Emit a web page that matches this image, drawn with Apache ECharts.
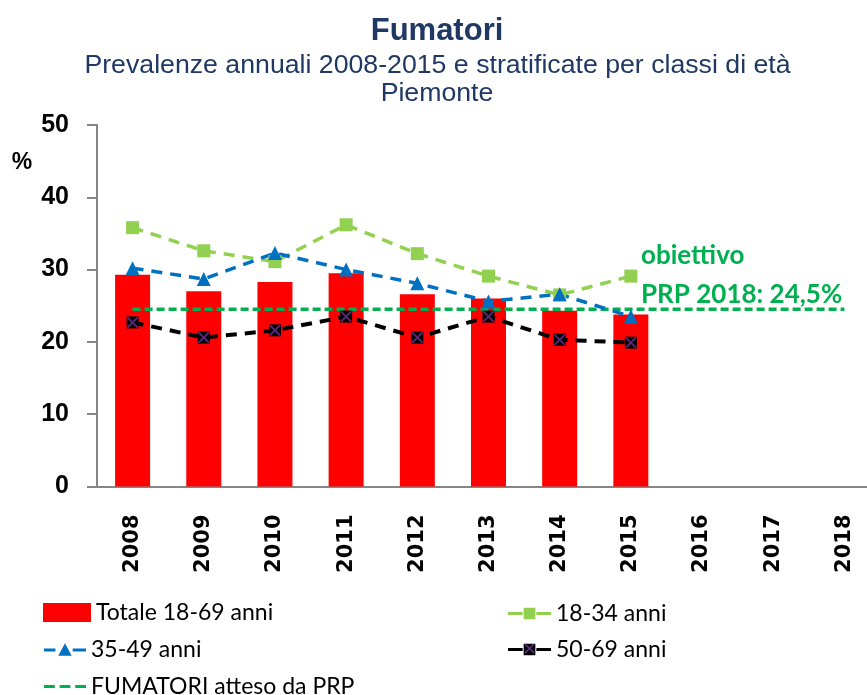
<!DOCTYPE html>
<html>
<head>
<meta charset="utf-8">
<script src="https://cdn.jsdelivr.net/npm/echarts@6/dist/echarts.min.js"></script>
<style>
html,body{margin:0;padding:0;background:#fff;}
#c{width:867px;height:695px;}
</style>
</head>
<body>
<div id="c"></div>
<script>
var years = ['2008','2009','2010','2011','2012','2013','2014','2015','2016','2017','2018'];
var totale = [29.3, 27.0, 28.3, 29.5, 26.6, 26.0, 24.3, 23.8, null, null, null];
var a1834 = [35.8, 32.6, 31.1, 36.2, 32.2, 29.1, 26.5, 29.1, null, null, null];
var a3549 = [30.2, 28.7, 32.3, 30.0, 28.1, 25.6, 26.6, 23.5, null, null, null];
var a5069 = [22.7, 20.6, 21.6, 23.5, 20.6, 23.5, 20.3, 19.9, null, null, null];
var prp = [24.5, 24.5, 24.5, 24.5, 24.5, 24.5, 24.5, 24.5, 24.5, 24.5, 24.5];
var yTicks = [0, 10, 20, 30, 40, 50];

var titleText = 'Fumatori';
var subtitle1 = 'Prevalenze annuali 2008-2015 e stratificate per classi di età';
var subtitle2 = 'Piemonte';
var noteLine1 = 'obiettivo';
var noteLine2 = 'PRP 2018: 24,5%';

var navy = '#1F3864';
var legendFont = {fontFamily: 'Lato', fontSize: 23, color: '#000'};
var xPath = 'path://M0,0 L1.2,0 L5,3.8 L8.8,0 L10,0 L10,1.2 L6.2,5 L10,8.8 L10,10 L8.8,10 L5,6.2 L1.2,10 L0,10 L0,8.8 L3.8,5 L0,1.2 Z';

// legend icons (44 x 14 box)
var iconTri = 'path://M0,5.5 L12,5.5 L12,8.5 L0,8.5 Z M15,13 L22,0 L29,13 Z M30,5.5 L44,5.5 L44,8.5 L30,8.5 Z';
var iconSq = 'path://M0,5.5 L15,5.5 L15,8.5 L0,8.5 Z M16,1 L28,1 L28,13 L16,13 Z M29,5.5 L44,5.5 L44,8.5 L29,8.5 Z';
var iconDash = 'path://M0,0 L11,0 L11,3 L0,3 Z M16,0 L27,0 L27,3 L16,3 Z M32,0 L43,0 L43,3 L32,3 Z';

var chart = echarts.init(document.getElementById('c'), null, {renderer: 'canvas'});
chart.setOption({
  animation: false,
  backgroundColor: '#fff',
  grid: {left: 97, top: 125, height: 361.5, width: 783, containLabel: false, outerBoundsMode: 'none'},
  graphic: [
    {type: 'text', x: 437, y: 31, style: {text: titleText, font: 'bold 31px "Liberation Sans"', fill: navy, align: 'center', verticalAlign: 'middle'}},
    {type: 'text', x: 437.5, y: 66, style: {text: subtitle1, font: '26.7px "Liberation Sans"', fill: navy, align: 'center', verticalAlign: 'middle'}},
    {type: 'text', x: 437, y: 94, style: {text: subtitle2, font: '26.7px "Liberation Sans"', fill: navy, align: 'center', verticalAlign: 'middle'}},
    {type: 'text', x: 22, y: 163, style: {text: '%', font: 'bold 23px "Liberation Sans"', fill: '#000', align: 'center', verticalAlign: 'middle'}},
    {type: 'text', x: 641, y: 256, style: {text: noteLine1, font: 'bold 26px Lato', fill: '#00B050', align: 'left', verticalAlign: 'middle'}},
    {type: 'text', x: 641, y: 295, style: {text: noteLine2, font: 'bold 26px Lato', fill: '#00B050', align: 'left', verticalAlign: 'middle'}},
    {type: 'line', shape: {x1: 525, y1: 644, x2: 534, y2: 653}, style: {stroke: '#7030A0', lineWidth: 1.3}, z: 100},
    {type: 'line', shape: {x1: 534, y1: 644, x2: 525, y2: 653}, style: {stroke: '#7030A0', lineWidth: 1.3}, z: 100}
  ],
  legend: [
    {data: ['Totale 18-69 anni'], left: 43, top: 601, icon: 'rect', itemWidth: 48, itemHeight: 19, textStyle: legendFont, padding: 0},
    {data: [{name: '18-34 anni', icon: iconSq}], left: 508, top: 602, itemWidth: 43, itemHeight: 14, textStyle: legendFont, padding: 0},
    {data: [{name: '35-49 anni', icon: iconTri}], left: 44, top: 638, itemWidth: 42, itemHeight: 14, textStyle: legendFont, padding: 0},
    {data: [{name: '50-69 anni', icon: iconSq}], left: 508, top: 638, itemWidth: 43, itemHeight: 14, textStyle: legendFont, padding: 0},
    {data: [{name: 'FUMATORI atteso da PRP', icon: iconDash}], left: 44, top: 675, itemWidth: 42, itemHeight: 4, textStyle: legendFont, padding: 0}
  ],
  xAxis: {
    type: 'category',
    data: years,
    boundaryGap: true,
    axisLine: {lineStyle: {color: '#868686', width: 2}},
    axisTick: {show: false},
    axisLabel: {rotate: 90, margin: 28, fontFamily: 'DejaVu Sans', fontWeight: 'bold', fontSize: 21, color: '#000'},
    splitLine: {show: false}
  },
  yAxis: {
    type: 'value',
    min: yTicks[0],
    max: yTicks[yTicks.length - 1],
    interval: 10,
    axisLine: {show: true, lineStyle: {color: '#868686', width: 2}},
    axisTick: {show: true, length: 10, lineStyle: {color: '#868686', width: 2}},
    axisLabel: {margin: 28, fontFamily: 'Liberation Sans', fontWeight: 'bold', fontSize: 25, color: '#000'},
    splitLine: {show: false}
  },
  series: [
    {
      name: 'Totale 18-69 anni', type: 'bar', data: totale, barWidth: 35,
      itemStyle: {color: '#FF0000'}, z: 1
    },
    {
      name: 'FUMATORI atteso da PRP', type: 'line', data: prp, symbol: 'none',
      lineStyle: {color: '#00B050', width: 3.5, type: [8, 4]}, itemStyle: {color: '#00B050'}, z: 2
    },
    {
      name: '18-34 anni', type: 'line', data: a1834, symbol: 'rect', symbolSize: 13,
      lineStyle: {color: '#92D050', width: 3.5, type: [11, 8]}, itemStyle: {color: '#92D050'}, z: 3
    },
    {
      name: '35-49 anni', type: 'line', data: a3549, symbol: 'triangle', symbolSize: 14,
      lineStyle: {color: '#0070C0', width: 3.5, type: [11, 8]}, itemStyle: {color: '#0070C0'}, z: 3
    },
    {
      name: '50-69 anni', type: 'line', data: a5069, symbol: 'rect', symbolSize: 12,
      lineStyle: {color: '#000', width: 4, type: [11, 8]}, itemStyle: {color: '#000'}, z: 3
    },
    {
      name: '50-69 x', type: 'scatter', data: a5069, symbol: xPath, symbolSize: 11,
      itemStyle: {color: '#7030A0'}, z: 4, silent: true
    }
  ]
});
</script>
</body>
</html>
